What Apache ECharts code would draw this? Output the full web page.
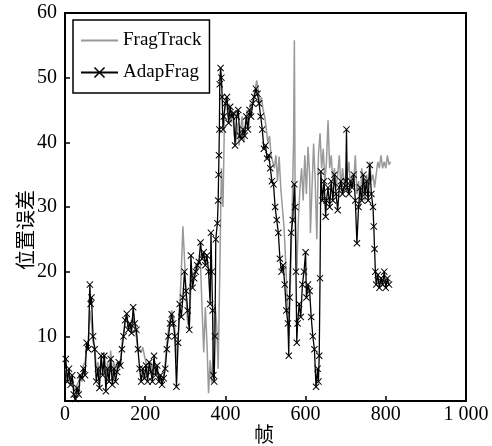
<!DOCTYPE html>
<html>
<head>
<meta charset="utf-8">
<script src="https://cdn.jsdelivr.net/npm/echarts@6/dist/echarts.min.js"></script>
<style>html,body{margin:0;padding:0;background:#fff}#c{width:492px;height:446px}</style>
</head>
<body>
<div id="c"></div>
<script>
// [frame, position error]
const fragTrack = [[2,5],[6,3.5],[10,4],[14,3],[18,3.5],[22,2],[26,1.5],[30,2.5],[34,3],[38,4],[42,3],[46,5.5],[50,6],[54,8.5],[58,9],[62,14],[66,12],[70,9],[74,8.5],[78,5],[82,6],[86,4],[90,6.5],[94,5],[98,7.5],[102,3],[106,6],[110,4],[114,7.8],[118,4],[122,6],[126,4],[130,6],[134,5],[138,6],[142,9],[146,10.5],[150,12],[154,13],[158,12],[162,11.5],[166,12.5],[170,13],[174,11],[178,10],[182,7.5],[186,8],[190,7.5],[194,8.3],[198,7],[202,6],[206,4],[210,5],[214,6],[218,4],[222,6.5],[226,5],[230,5],[234,4],[238,3.5],[242,3],[246,4],[250,6],[254,9],[258,11],[262,13],[266,14],[270,13],[274,11],[278,6],[282,10],[286,14],[290,20],[294,27],[298,22],[302,16],[306,12],[310,11.5],[314,18],[318,20],[322,19],[326,21],[330,20],[334,22],[338,21],[342,14],[346,7.5],[350,14.5],[354,9],[358,1.2],[362,6.3],[366,2.8],[370,8],[374,15],[378,12],[382,5],[386,20],[390,36],[394,30],[398,45],[402,47],[406,44],[410,46],[414,43],[418,45],[422,41],[426,40],[430,43],[434,39.5],[438,42],[442,44],[446,40],[450,43],[454,45],[458,42],[462,46],[466,45],[470,47],[474,48],[478,49.6],[482,48],[486,46],[490,47],[494,45],[498,44],[502,42],[506,40],[510,41],[514,38],[518,37],[522,36],[526,38],[530,34],[534,37.8],[538,33],[542,30],[546,27],[550,22],[554,16],[558,10],[562,18],[566,28],[570,40],[572,55.8],[574,30],[578,20],[582,28],[586,33],[590,36],[594,31],[598,38],[602,32],[606,39.3],[610,35],[612,26],[616,33],[620,39.8],[624,34],[628,25],[632,38],[636,41.4],[640,36],[644,39],[648,34],[652,37],[656,43.4],[660,36],[664,38],[668,34],[672,36],[676,33],[680,35],[684,38],[688,33],[692,36],[696,34],[700,33],[704,35],[708,37],[712,33],[716,35],[720,34],[724,38],[728,32],[732,34],[736,30],[740,36],[744,33],[748,31],[752,35],[756,33],[760,37],[764,34],[768,35],[772,33],[776,35],[780,37],[784,36],[788,38],[792,36],[796,37],[800,36],[804,38],[808,36.5],[812,37]];

const adapFrag = [[2,6.5],[6,3],[10,5],[14,2.5],[18,4],[22,1],[26,0.3],[30,2],[34,1],[38,4],[42,3.5],[46,5],[50,4],[54,9],[58,8],[62,18],[64,15],[66,16],[70,10],[74,8],[78,3],[82,5],[86,2],[90,7],[94,4],[98,7],[102,1.5],[106,5],[110,3],[114,6.5],[118,2.5],[122,5],[126,3],[130,4.5],[134,6],[138,5.5],[142,8],[146,10],[150,12.5],[154,13.5],[158,11],[162,12],[166,10.5],[170,14.5],[174,12],[178,11],[182,8],[186,5],[190,3],[194,5],[198,3.5],[202,5.5],[206,3],[210,6],[214,4.5],[218,3],[222,7],[226,4],[230,5.5],[234,3],[238,4],[242,2.5],[246,3.5],[250,5],[254,8],[258,10],[262,12],[266,13.4],[270,12],[274,10],[278,2.2],[282,9],[286,15],[290,13],[294,16],[298,20],[302,17],[306,14],[310,11],[314,22.5],[318,17.5],[322,19],[326,20],[330,21],[334,21.5],[338,24.5],[342,22],[346,23],[350,21],[354,22.5],[358,20],[362,15],[364,26],[366,20],[368,14],[370,4],[372,3],[374,10],[376,25],[380,27.5],[382,31],[383,35],[384,38],[385,42],[386,49],[388,51.5],[390,50],[392,47],[394,42],[396,44],[400,46],[404,47],[408,43],[412,45.5],[416,44],[420,44.5],[424,39.5],[428,44],[432,45],[436,41],[440,40.5],[444,42],[448,41],[452,44],[456,42],[460,45],[464,44],[468,46],[472,47],[476,48.3],[480,47.5],[484,46],[488,44],[492,42],[496,39],[500,39.5],[504,37.5],[508,38],[512,36],[516,34],[520,33.5],[524,30],[528,28],[532,26],[536,22],[540,20],[544,21],[548,18],[552,14],[556,12],[558,7],[560,16],[564,26],[568,28],[572,33.5],[574,30],[576,20],[578,9],[580,12],[584,15],[588,13],[592,18],[596,20],[600,23],[602,16],[606,18],[610,17],[614,13],[618,10],[622,8],[626,2.2],[630,5],[632,3],[634,7],[636,19],[638,35.5],[642,31],[646,34],[650,28.5],[652,31],[656,33],[660,30],[664,34],[668,31],[672,35],[676,32],[680,29.5],[684,33],[688,34],[692,32],[696,33],[700,34],[702,42],[704,33],[708,32],[712,34],[716,33],[720,35],[724,31],[728,24.4],[732,30],[736,33],[740,31],[744,35],[748,32],[752,34],[756,31],[760,36.5],[764,32],[768,30],[770,27],[772,23.5],[774,20],[776,18],[780,19.5],[784,17.5],[788,19],[792,18],[796,20],[800,17.5],[804,19],[808,18]];

const seriesNames = ['FragTrack', 'AdapFrag'];
const xTicks = [0, 200, 400, 600, 800, 1000];
const xTickLabels = ['0', '200', '400', '600', '800', '1 000'];
const xName = '帧';
const yName = '位置误差';

const xMark = 'path://M0,1L1,0L5,4L9,0L10,1L6,5L10,9L9,10L5,6L1,10L0,9L4,5Z';
const serif = 'Liberation Serif';
const cjk = 'Noto Sans CJK SC';

const chart = echarts.init(document.getElementById('c'), null, {renderer: 'canvas'});
chart.setOption({
  animation: false,
  backgroundColor: '#fff',
  grid: {left: 65, right: 26, top: 13, bottom: 45, show: true, borderColor: '#000', borderWidth: 2, backgroundColor: 'transparent'},
  legend: {
    orient: 'vertical', left: 73, top: 20,
    padding: [11, 8, 11, 7],
    itemWidth: 37, itemHeight: 14, itemGap: 13,
    borderColor: '#000', borderWidth: 1.5, backgroundColor: '#fff',
    textStyle: {fontFamily: serif, fontSize: 19, color: '#000'},
    data: [{name: seriesNames[0], itemStyle: {opacity: 0}}, {name: seriesNames[1]}]
  },
  xAxis: {
    type: 'value', min: 0, max: 1000, interval: 200,
    axisLine: {show: true, lineStyle: {color: '#000', width: 2}},
    axisTick: {show: true, inside: true, length: 5, lineStyle: {color: '#000', width: 1.5}},
    splitLine: {show: false},
    axisLabel: {fontFamily: serif, fontSize: 20, color: '#000', margin: 4,
      formatter: v => xTickLabels[xTicks.indexOf(v)]}
  },
  yAxis: {
    type: 'value', min: 0, max: 60, interval: 10,
    axisLine: {show: true, lineStyle: {color: '#000', width: 2}},
    axisTick: {show: true, inside: true, length: 5, lineStyle: {color: '#000', width: 1.5}},
    splitLine: {show: false},
    axisLabel: {fontFamily: serif, fontSize: 20, color: '#000', margin: 8,
      formatter: v => v === 0 ? '' : String(v)}
  },
  graphic: [
    {type: 'text', left: 15, top: 190, rotation: Math.PI / 2, style: {text: yName, font: '20px "' + cjk + '"', fill: '#000'}},
    {type: 'text', left: 254, top: 424, style: {text: xName, font: '20px "' + cjk + '"', fill: '#000'}}
  ],
  series: [
    {name: seriesNames[0], type: 'line', data: fragTrack, symbol: 'none',
      lineStyle: {color: '#999', width: 1.5}, itemStyle: {color: '#999'}, z: 2},
    {name: seriesNames[1], type: 'line', data: adapFrag, symbol: xMark, symbolSize: 7, showAllSymbol: true,
      lineStyle: {color: '#000', width: 1.3}, itemStyle: {color: '#000'}, z: 3}
  ]
});
</script>
</body>
</html>
